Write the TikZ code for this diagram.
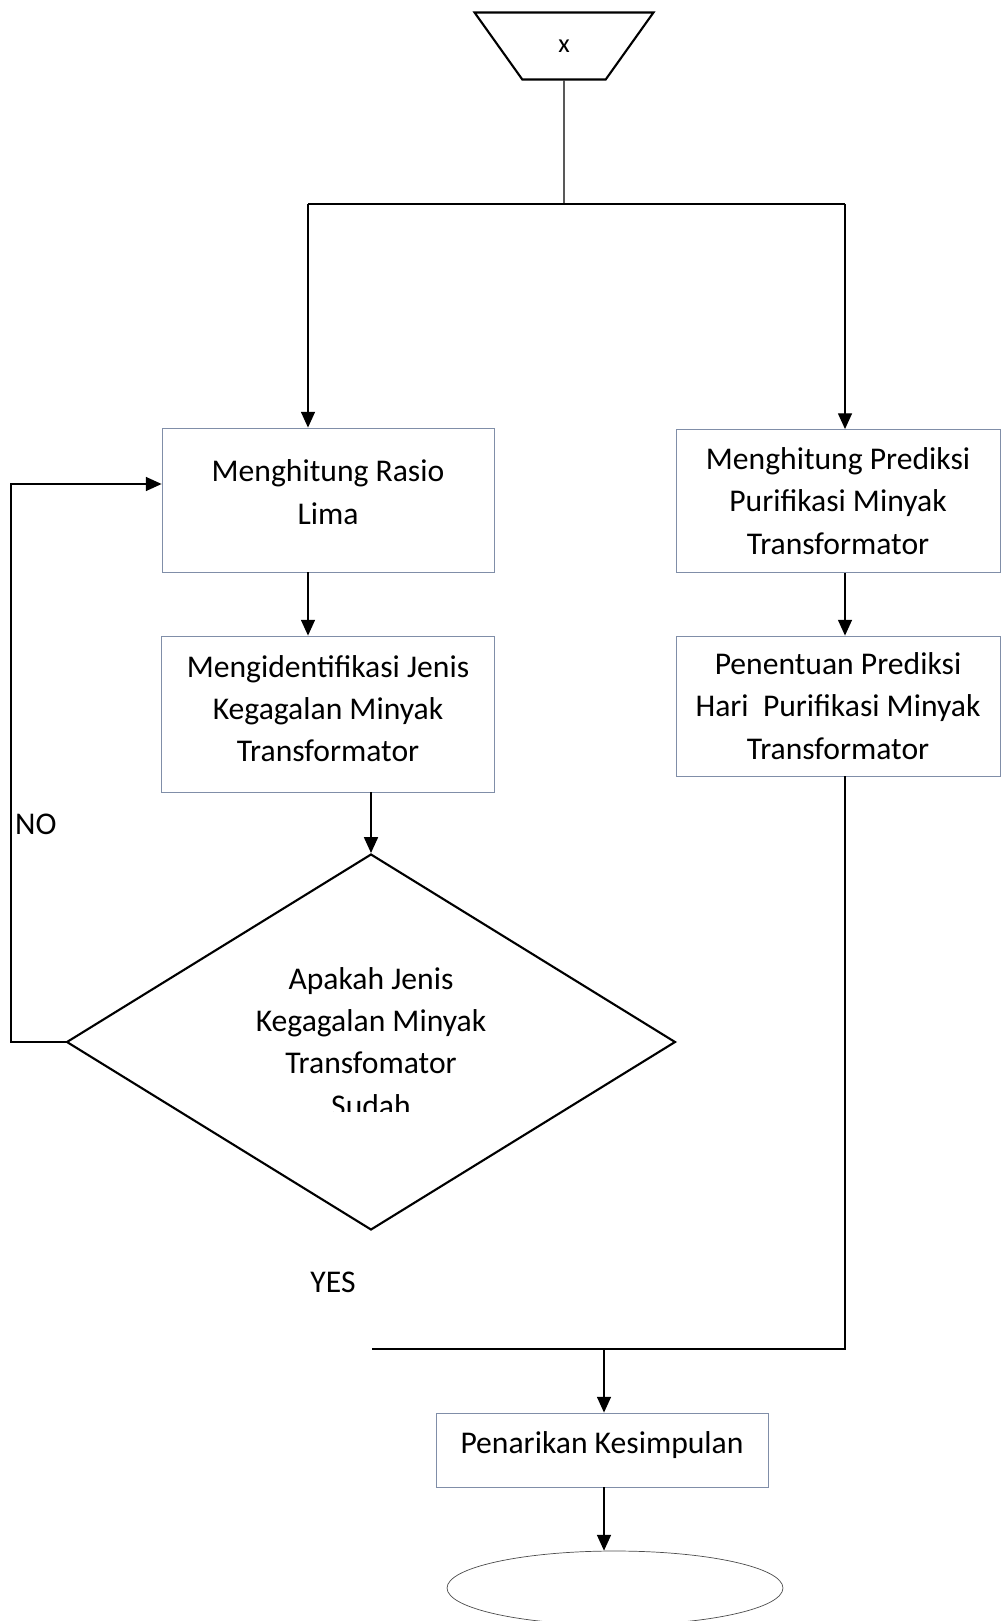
\documentclass[tikz,border=0pt]{standalone}
\usepackage{fontspec}
\setmainfont{Carlito}
\usepackage{tikz}
\usetikzlibrary{arrows.meta,shapes.geometric}
\definecolor{boxline}{RGB}{128,142,168}

\begin{document}
\begin{tikzpicture}[x=0.02cm,y=-0.02cm]
\useasboundingbox (0,0) rectangle (1000,1621);

\begin{scope}[every node/.style={draw=boxline,line width=0.5pt,rectangle,align=center,
              font=\fontsize{18}{24}\selectfont}]
    \node[minimum width=6.64cm,minimum height=2.88cm,text depth=9pt] (rasio) at (328,500) {Menghitung Rasio\\Lima};
    \node[minimum width=6.66cm,minimum height=3.12cm,text depth=6pt] (jenis) at (328,714) {Mengidentifikasi Jenis\\Kegagalan Minyak\\Transformator};
    \node[minimum width=6.48cm,minimum height=2.86cm] (prediksi) at (838,501) {Menghitung Prediksi\\Purifikasi Minyak\\Transformator};
    \node[minimum width=6.48cm,minimum height=2.80cm] (hari) at (838,706) {Penentuan Prediksi\\Hari~~Purifikasi Minyak\\Transformator};
    \node[minimum width=6.64cm,minimum height=1.48cm,text depth=8pt] (simpul) at (602,1450) {Penarikan Kesimpulan};
\end{scope}

\node[draw,line width=1.2pt,trapezium,trapezium angle=61.4,shape border rotate=180,
      trapezium stretches=true,minimum width=3.58cm,minimum height=1.34cm,
      font=\fontsize{15}{18}\selectfont] (start) at (564,46) {x};
\node[draw,line width=1.2pt,diamond,minimum width=12.18cm,minimum height=7.52cm] (cek) at (371,1042) {};
\node[draw=black!70,line width=0.4pt,ellipse,minimum width=6.72cm,minimum height=1.48cm] (akhir) at (615,1588) {};

\begin{scope}
    \clip (100,940) rectangle (640,1111);
    \node[align=center,font=\fontsize{18}{24}\selectfont] (cektext) at (371,1042)
        {Apakah Jenis\\Kegagalan Minyak\\Transfomator\\Sudah};
\end{scope}

\node[font=\fontsize{18}{24}\selectfont,anchor=west] (no) at (9,824) {NO};
\node[font=\fontsize{18}{24}\selectfont] (yes) at (333,1282) {YES};

\coordinate (cabang) at (564,204);
\coordinate (kiri) at (308,204);
\coordinate (kanan) at (845,204);
\coordinate (tepi) at (11,484);
\coordinate (gabung) at (604,1349);
\coordinate (ujung) at (372,1349);

\begin{scope}[>={Triangle[length=9pt,width=8pt]},line width=0.8pt]
    \draw (start.south) -- (cabang);
    \draw (kiri) -- (kanan);
    \draw [->] (kiri) -- (kiri |- rasio.north);
    \draw [->] (kanan) -- (kanan |- prediksi.north);
    \draw [->] (rasio.south -| kiri) -- (jenis.north -| kiri);
    \draw [->] (jenis.south -| cek.north) -- (cek.north);
    \draw [->] (cek.west) -| (tepi) -- (tepi -| rasio.west);
    \draw [->] (prediksi.south -| kanan) -- (hari.north -| kanan);
    \draw (hari.south -| kanan) |- (ujung);
    \draw [->] (gabung) -- (gabung |- simpul.north);
    \draw [->] (simpul.south -| gabung) -- (gabung |- akhir.north);
\end{scope}
\end{tikzpicture}
\end{document}
